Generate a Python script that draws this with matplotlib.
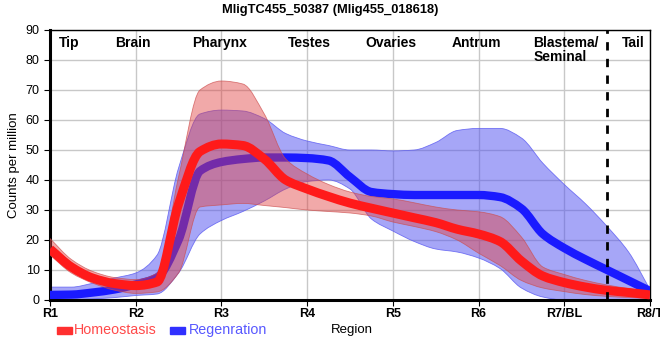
import matplotlib
matplotlib.use('Agg')
import matplotlib.pyplot as plt
from matplotlib.path import Path
from matplotlib.patches import PathPatch
import numpy as np

plt.rcParams['font.family'] = ['Liberation Sans', 'DejaVu Sans']

# regions and tissue labels
regions = ['R1', 'R2', 'R3', 'R4', 'R5', 'R6', 'R7/BL', 'R8/T']
tissues = ['Tip', 'Brain', 'Pharynx', 'Testes', 'Ovaries', 'Antrum', 'Blastema/\nSeminal', 'Tail']
tissue_pos = [0.22, 0.97, 1.98, 3.03, 3.98, 4.98, 5.64, 6.81]

# values sampled every quarter region, R1 .. R8/T
homeo_mean = [17, 11, 7.3, 5.5, 4.8, 6.0, 32, 49.5, 52, 51.5, 47, 40, 37, 34.5, 32.3,
              30.6, 29, 27.4, 25.8, 23.6, 22, 19.5, 13, 8, 5.8, 4.3, 3.2, 2.5, 1.7]
homeo_low = [15, 9, 5.6, 3.3, 2.2, 2.7, 9, 31, 31.7, 32.2, 31.5, 30.8, 30, 29.5, 29,
             28, 26, 24.5, 22.8, 20, 15.6, 11.5, 6.5, 4, 2.8, 1.8, 1.2, 0.8, 0.5]
homeo_high = [20.5, 13.5, 9.5, 7.5, 6.8, 9, 41, 70, 73, 72, 62, 47, 42, 38.5, 36,
              34.5, 33.7, 32.4, 31, 30, 29.4, 27.8, 21, 11, 8.5, 6.5, 5, 3.8, 2.7]

regen_mean = [1.7, 1.8, 2.5, 3.5, 5.2, 7.5, 20, 43, 46, 47, 47.5, 47.5, 47.3, 46.5, 41,
              36, 35.3, 35, 35, 35, 35, 34.3, 30.5, 22, 17.3, 13.5, 10, 6.5, 3]
regen_low = [0.2, 0.2, 0.4, 0.8, 1.5, 2, 9, 22, 26.5, 29.5, 33, 37, 39.5, 40, 37,
             27, 23, 19.5, 17, 16, 14, 10.5, 4, 1, 0, 0, 0, 0, 0]
regen_high = [4.3, 4.3, 5.6, 7.3, 9, 15, 44, 62, 63.3, 63, 60.5, 55.5, 53, 51.5, 50,
              50, 49.7, 50, 52.5, 56.5, 57.2, 57.2, 54, 45.6, 38.5, 32, 24.5, 16, 3.5]

x = np.arange(len(homeo_mean)) * 0.25


def monotone_slopes(xs, ys):
    # Fritsch-Carlson slopes so the curve does not overshoot
    h = np.diff(xs)
    d = np.diff(ys) / h
    m = np.zeros(len(xs))
    m[0], m[-1] = d[0], d[-1]
    for i in range(1, len(xs) - 1):
        if d[i - 1] * d[i] <= 0:
            m[i] = 0
        else:
            w1 = 2 * h[i] + h[i - 1]
            w2 = h[i] + 2 * h[i - 1]
            m[i] = (w1 + w2) / (w1 / d[i - 1] + w2 / d[i])
    return m


def bezier_verts(xs, ys):
    xs = np.asarray(xs, float)
    ys = np.asarray(ys, float)
    m = monotone_slopes(xs, ys)
    verts = [(xs[0], ys[0])]
    for i in range(len(xs) - 1):
        h = xs[i + 1] - xs[i]
        verts.append((xs[i] + h / 3, ys[i] + m[i] * h / 3))
        verts.append((xs[i + 1] - h / 3, ys[i + 1] - m[i + 1] * h / 3))
        verts.append((xs[i + 1], ys[i + 1]))
    return verts


def smooth_line(ax, xs, ys, **kw):
    verts = bezier_verts(xs, ys)
    codes = [Path.MOVETO] + [Path.CURVE4] * (len(verts) - 1)
    patch = PathPatch(Path(verts, codes), fill=False, transform=ax.transData,
                      capstyle='butt', joinstyle='round', **kw)
    ax.add_patch(patch)


def smooth_band(ax, xs, lo, hi, **kw):
    up = bezier_verts(xs, hi)
    down = bezier_verts(xs[::-1], lo[::-1])
    verts = up + down + [up[0]]
    codes = ([Path.MOVETO] + [Path.CURVE4] * (len(up) - 1) + [Path.LINETO]
             + [Path.CURVE4] * (len(down) - 1) + [Path.CLOSEPOLY])
    patch = PathPatch(Path(verts, codes), transform=ax.transData, **kw)
    ax.add_patch(patch)


fig = plt.figure(figsize=(6.6, 3.6), dpi=100)
ax = fig.add_axes([50 / 660, 60 / 360, 600 / 660, 270 / 360])

smooth_band(ax, x, regen_low, regen_high, facecolor=(0.31, 0.31, 0.94, 0.5),
            edgecolor=(0.35, 0.35, 0.95, 0.8), lw=0.6, zorder=2)
smooth_line(ax, x, regen_mean, edgecolor='#1a1aff', lw=6, zorder=3)
smooth_band(ax, x, homeo_low, homeo_high, facecolor=(0.88, 0.25, 0.25, 0.45),
            edgecolor=(0.8, 0.3, 0.3, 0.7), lw=0.6, zorder=4)
smooth_line(ax, x, homeo_mean, edgecolor='#ff1a1a', lw=6.5, zorder=5)

ax.axvline(6.5, color='black', lw=2, ls=(0, (3, 3)), zorder=6)

ax.set_xlim(0, 7)
ax.set_ylim(0, 90)
ax.set_xticks(range(len(regions)))
ax.set_xticklabels(regions, fontsize=9, fontweight='bold')
ax.set_yticks(range(0, 91, 10))
ax.tick_params(axis='y', labelsize=9, length=4)
ax.tick_params(axis='x', length=4, pad=2)
ax.grid(True, color='#c8c8c8', lw=1)
ax.set_axisbelow(True)

for side in ['left', 'bottom']:
    ax.spines[side].set_linewidth(2.2)
for side in ['top', 'right']:
    ax.spines[side].set_linewidth(1)

for name, pos in zip(tissues, tissue_pos):
    ha = 'left' if '\n' in name else 'center'
    ax.text(pos, 88, name, fontsize=10, fontweight='bold', va='top', ha=ha,
            linespacing=1.0, zorder=7)

ax.set_ylabel('Counts per million', fontsize=9.5, labelpad=4)
fig.text(352 / 660, 1 - 330 / 360, 'Region', fontsize=9.5, ha='center', va='center')
fig.suptitle('MligTC455_50387 (Mlig455_018618)', fontsize=9.3, fontweight='bold', y=0.99)

# legend drawn as patches with coloured text
fig.patches.append(plt.Rectangle((57 / 660, 1 - 334 / 360), 15 / 660, 7 / 360,
                                 transform=fig.transFigure, color='#ff3030'))
fig.text(74 / 660, 1 - 330 / 360, 'Homeostasis', color='#ff4a4a', fontsize=10.3, va='center')
fig.patches.append(plt.Rectangle((170 / 660, 1 - 334 / 360), 15 / 660, 7 / 360,
                                 transform=fig.transFigure, color='#3030ff'))
fig.text(189 / 660, 1 - 330 / 360, 'Regenration', color='#5858ff', fontsize=10.3, va='center')

fig.savefig('out.png', dpi=100)
